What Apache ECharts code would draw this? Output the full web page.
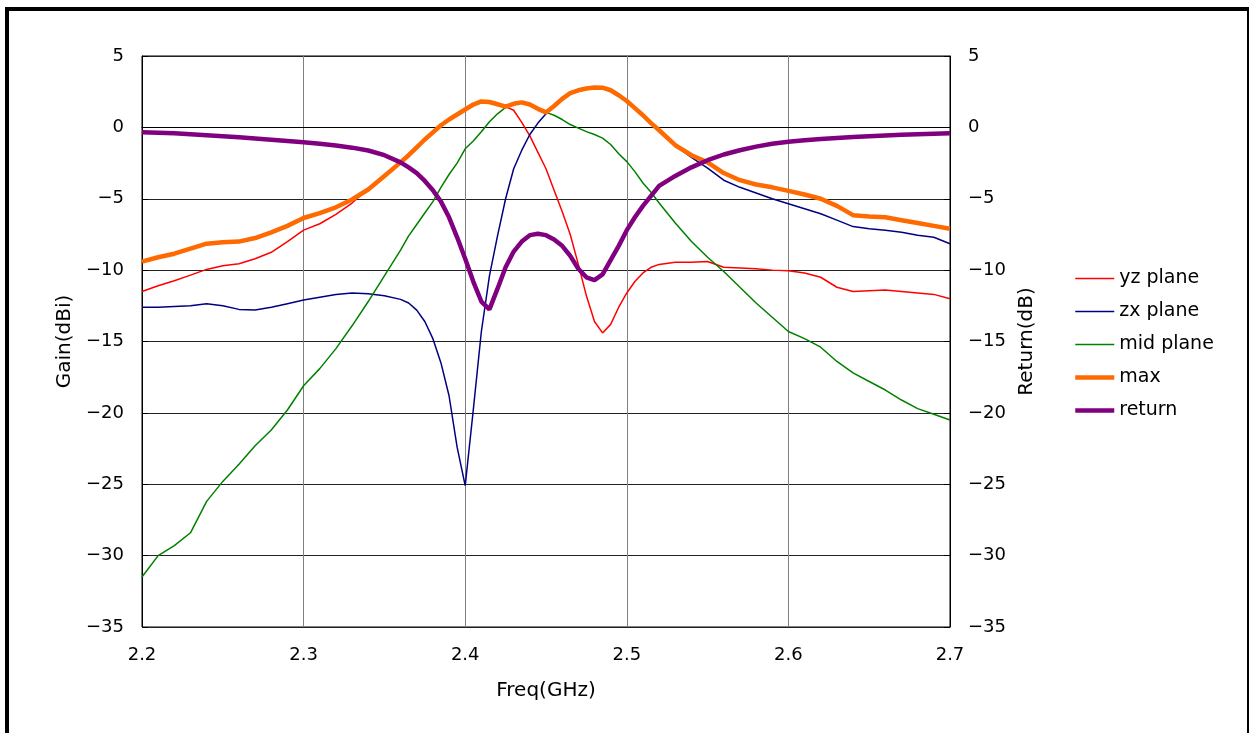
<!DOCTYPE html>
<html><head><meta charset="utf-8">
<script src="https://cdn.jsdelivr.net/npm/echarts@6/dist/echarts.min.js"></script>
<style>
html,body{margin:0;padding:0;background:#fff;}
#c{position:absolute;left:0;top:0;width:1249px;height:733px;}
#frame{position:absolute;left:5px;top:7px;width:1238px;height:740px;border-left:4px solid #000;border-top:4px solid #000;border-right:3px solid #000;pointer-events:none;}
</style></head>
<body>
<div id="c"></div><div id="frame"></div>
<script>
const freq = [2.20,2.21,2.22,2.23,2.24,2.25,2.26,2.27,2.28,2.29,2.30,2.31,2.32,2.33,2.34,2.35,2.36,
2.365,2.37,2.375,2.38,2.385,2.39,2.395,2.40,2.405,2.41,2.415,2.42,2.425,2.43,2.435,2.44,2.445,2.45,
2.455,2.46,2.465,2.47,2.475,2.48,2.485,2.49,2.495,2.50,2.505,2.51,2.515,2.52,
2.53,2.54,2.55,2.56,2.57,2.58,2.59,2.60,2.61,2.62,2.63,2.64,2.65,2.66,2.67,2.68,2.69,2.70];

const yzPlane = [-11.5,-11.1,-10.75,-10.35,-9.95,-9.7,-9.55,-9.2,-8.75,-8.0,-7.2,-6.75,-6.1,-5.3,-4.3,-3.45,-2.5,
-2.0,-1.45,-0.9,-0.4,0.1,0.5,0.85,1.2,1.55,1.75,1.72,1.6,1.45,1.2,0.35,-0.6,-1.75,-2.9,
-4.4,-5.9,-7.5,-9.6,-11.8,-13.6,-14.4,-13.8,-12.6,-11.6,-10.8,-10.2,-9.8,-9.6,
-9.45,-9.45,-9.4,-9.8,-9.85,-9.9,-10.0,-10.05,-10.2,-10.5,-11.2,-11.5,-11.45,-11.4,-11.5,-11.6,-11.7,-12.0];

const zxPlane = [-12.6,-12.6,-12.55,-12.5,-12.35,-12.5,-12.75,-12.8,-12.6,-12.35,-12.1,-11.9,-11.7,-11.6,-11.65,-11.8,-12.05,
-12.3,-12.8,-13.6,-14.8,-16.5,-18.8,-22.4,-25.1,-19.8,-14.3,-10.4,-7.6,-5.0,-2.9,-1.6,-0.5,0.3,0.95,
1.5,2.0,2.4,2.6,2.72,2.8,2.78,2.6,2.25,1.85,1.35,0.85,0.3,-0.2,
-1.3,-2.1,-2.85,-3.7,-4.2,-4.6,-5.0,-5.35,-5.7,-6.05,-6.5,-6.95,-7.1,-7.2,-7.35,-7.55,-7.7,-8.15];

const midPlane = [-31.5,-30.0,-29.3,-28.4,-26.2,-24.8,-23.6,-22.3,-21.2,-19.8,-18.1,-16.9,-15.5,-13.9,-12.2,-10.4,-8.6,
-7.6,-6.8,-6.0,-5.2,-4.2,-3.3,-2.5,-1.5,-0.95,-0.3,0.4,0.95,1.4,1.65,1.75,1.6,1.3,1.05,
0.85,0.55,0.2,-0.05,-0.3,-0.5,-0.75,-1.2,-1.85,-2.4,-3.1,-3.9,-4.55,-5.3,
-6.7,-8.0,-9.1,-10.1,-11.2,-12.3,-13.3,-14.3,-14.8,-15.4,-16.4,-17.2,-17.8,-18.4,-19.1,-19.7,-20.1,-20.5];

const maxGain = [-9.4,-9.1,-8.85,-8.5,-8.15,-8.05,-8.0,-7.75,-7.35,-6.9,-6.35,-6.0,-5.6,-5.05,-4.35,-3.4,-2.45,
-1.95,-1.4,-0.85,-0.35,0.15,0.55,0.9,1.25,1.6,1.82,1.78,1.62,1.45,1.65,1.75,1.6,1.3,1.05,
1.5,2.0,2.4,2.6,2.72,2.8,2.78,2.6,2.25,1.85,1.35,0.85,0.3,-0.2,
-1.25,-1.95,-2.45,-3.2,-3.7,-4.0,-4.2,-4.45,-4.7,-5.0,-5.5,-6.15,-6.25,-6.3,-6.5,-6.7,-6.9,-7.1];

const returnLoss = [-0.35,-0.38,-0.42,-0.48,-0.55,-0.62,-0.70,-0.78,-0.86,-0.95,-1.05,-1.15,-1.27,-1.42,-1.62,-1.95,-2.45,
-2.8,-3.2,-3.75,-4.4,-5.2,-6.3,-7.7,-9.2,-10.8,-12.2,-12.75,-11.3,-9.8,-8.7,-8.0,-7.55,-7.45,-7.55,
-7.85,-8.3,-9.0,-9.9,-10.5,-10.7,-10.3,-9.3,-8.3,-7.2,-6.3,-5.5,-4.8,-4.1,
-3.4,-2.8,-2.3,-1.9,-1.6,-1.35,-1.15,-1.0,-0.9,-0.82,-0.75,-0.68,-0.62,-0.57,-0.52,-0.48,-0.45,-0.42];

const seriesNames = ['yz plane','zx plane','mid plane','max','return'];
const xTicks = [2.2,2.3,2.4,2.5,2.6,2.7];

const zip = arr => freq.map((f,i)=>[f,arr[i]]);
const FONT = '"DejaVu Sans","Noto Sans",sans-serif';
const minus = v => String(v).replace('-', '\u2212');
const widths = {'yz plane':1.5,'zx plane':1.5,'mid plane':1.5,'max':4.5,'return':4.5};

const chart = echarts.init(document.getElementById('c'), null, {renderer:'canvas'});
const mk = (name, data, color, yIdx) => ({
  name, type:'line', data: zip(data), yAxisIndex: yIdx, showSymbol:false, symbol:'none',
  lineStyle:{color, width: widths[name]}, itemStyle:{color}, animation:false, z: 2
});
chart.setOption({
  backgroundColor:'#fff',
  animation:false,
  grid:{left:142, right:299, top:56, bottom:106, show:true, borderColor:'#000', borderWidth:1, backgroundColor:'#fff'},
  legend:{
    orient:'vertical', left:1068, top:264, itemWidth:39, itemHeight:14, itemGap:14,
    data: seriesNames.map(n => ({name:n, lineStyle:{width: widths[n]}})),
    itemStyle:{opacity:0, borderWidth:0},
    textStyle:{fontFamily:FONT, fontSize:19, color:'#000'}
  },
  xAxis:{
    type:'value', min:2.2, max:2.7, interval:0.1,
    name:'Freq(GHz)', nameLocation:'middle', nameGap:54,
    nameTextStyle:{fontFamily:FONT, fontSize:20, color:'#000'},
    axisLine:{show:true, lineStyle:{color:'#000', width:1}},
    axisTick:{show:false},
    splitLine:{show:true, lineStyle:{color:'#808080', width:1}},
    axisLabel:{fontFamily:FONT, fontSize:18, color:'#000', margin:19,
      formatter: v => { const t = xTicks.find(x=>Math.abs(x-v)<1e-6); return t!==undefined ? t.toFixed(1) : ''; }}
  },
  yAxis:[{
    type:'value', min:-35, max:5, interval:5, position:'left',
    name:'Gain(dBi)', nameLocation:'middle', nameGap:64, nameRotate:90,
    nameTextStyle:{fontFamily:FONT, fontSize:20, color:'#000'},
    axisLine:{show:true, lineStyle:{color:'#000', width:1}},
    axisTick:{show:true, inside:true, length:6, lineStyle:{color:'#000'}},
    splitLine:{show:true, lineStyle:{color:'#222', width:1}},
    axisLabel:{fontFamily:FONT, fontSize:18, color:'#000', margin:18, formatter: minus}
  },{
    type:'value', min:-35, max:5, interval:5, position:'right',
    name:'Return(dB)', nameLocation:'middle', nameGap:67, nameRotate:90,
    nameTextStyle:{fontFamily:FONT, fontSize:20, color:'#000'},
    axisLine:{show:true, lineStyle:{color:'#000', width:1}},
    axisTick:{show:true, inside:true, length:6, lineStyle:{color:'#000'}},
    splitLine:{show:false},
    axisLabel:{fontFamily:FONT, fontSize:18, color:'#000', margin:18, formatter: minus}
  }],
  series:[
    mk('yz plane', yzPlane, '#ff0000', 0),
    mk('zx plane', zxPlane, '#000080', 0),
    mk('mid plane', midPlane, '#008000', 0),
    mk('max', maxGain, '#ff6a00', 0),
    mk('return', returnLoss, '#800080', 1)
  ]
});
</script>
</body></html>
